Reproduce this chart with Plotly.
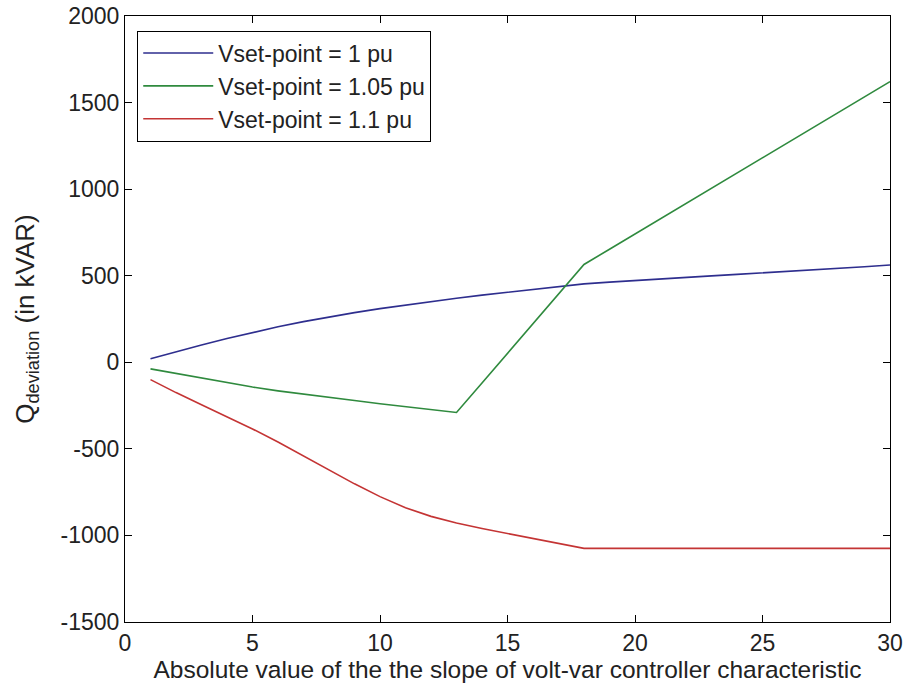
import plotly.graph_objects as go

slope = list(range(1, 31))

q_v100 = [20, 62, 100, 137, 172, 205, 235, 262, 287, 310,
          331, 351, 370, 388, 405, 422, 438, 453, 463, 473,
          482, 491, 499, 508, 516, 525, 534, 543, 552, 562]

q_v105 = [-38, -65, -92, -118, -143, -165, -185, -203, -221, -239,
          -256, -273, -290, -120, 50, 220, 390, 565, 653, 741,
          829, 917, 1005, 1093, 1181, 1269, 1357, 1445, 1533, 1621]

q_v110 = [-100, -175, -245, -315, -385, -460, -540, -622, -702, -776,
          -840, -890, -928, -960, -988, -1017, -1046, -1075, -1075, -1075,
          -1075, -1075, -1075, -1075, -1075, -1075, -1075, -1075, -1075, -1075]

series_names = ["Vset-point = 1 pu", "Vset-point = 1.05 pu", "Vset-point = 1.1 pu"]
series_colors = ["#2e2e8e", "#2f8a3e", "#c43434"]

x_ticks = [0, 5, 10, 15, 20, 25, 30]
x_tick_text = ["0", "5", "10", "15", "20", "25", "30"]
y_ticks = [-1500, -1000, -500, 0, 500, 1000, 1500, 2000]
y_tick_text = ["-1500", "-1000", "-500", "0", "500", "1000", "1500", "2000"]

font_family = "Liberation Sans, Arial, sans-serif"
fs = 23

fig = go.Figure()
for name, vals, col in zip(series_names, [q_v100, q_v105, q_v110], series_colors):
    fig.add_trace(go.Scatter(x=slope, y=vals, mode="lines", name=name,
                             line=dict(color=col, width=1.6)))

axis_common = dict(showline=True, linecolor="black", linewidth=1, mirror="ticks",
                   ticks="inside", ticklen=7, tickcolor="black", tickwidth=1,
                   showgrid=False, zeroline=False, automargin=False,
                   tickfont=dict(family=font_family, size=fs, color="#222"))

fig.update_layout(
    width=904, height=686,
    margin=dict(l=125, r=14, t=16, b=64, autoexpand=False),
    paper_bgcolor="white", plot_bgcolor="white",
    font=dict(family=font_family, size=fs, color="#222"),
    xaxis=dict(range=[0, 30], tickvals=x_ticks, ticktext=x_tick_text,
               title=dict(text="Absolute value of the the slope of volt-var controller characteristic",
                          font=dict(family=font_family, size=24.5), standoff=1),
               **axis_common),
    yaxis=dict(range=[-1500, 2000], tickvals=y_ticks, ticktext=y_tick_text,
               title=dict(text="Q<sub>deviation</sub> (in kVAR)",
                          font=dict(family=font_family, size=26), standoff=18),
               **axis_common),
    legend=dict(x=0.016, y=0.976, xanchor="left", yanchor="top",
                bordercolor="black", borderwidth=1, bgcolor="white",
                font=dict(family=font_family, size=fs), itemwidth=70,
                tracegroupgap=0),
    showlegend=True,
)

fig.write_html("out.html")
